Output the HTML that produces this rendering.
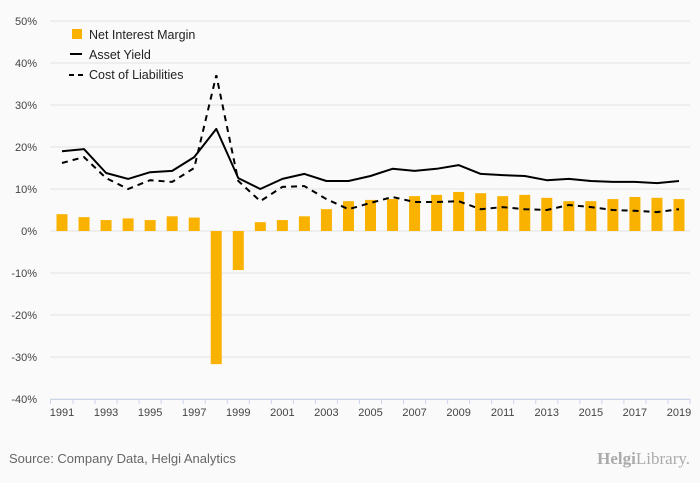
<!DOCTYPE html>
<html><head><meta charset="utf-8"><style>
html,body{margin:0;padding:0;background:#fafafa;}
svg{display:block;font-family:"Liberation Sans",sans-serif;}
</style></head><body>
<svg id="chart" width="700" height="483">
<rect x="0" y="0" width="700" height="483" fill="#fafafa"/>
<g id="grid"></g>
<g id="bars"></g>
<g id="lines"></g>
<g id="axes"></g>
<g font-size="12.5" fill="#222">
<g><rect x="72" y="29" width="10" height="10" fill="#f9b200"/><text x="89" y="39">Net Interest Margin</text></g>
<g><line x1="70" y1="54" x2="82" y2="54" stroke="#000" stroke-width="2"/><text x="89" y="59">Asset Yield</text></g>
<g><line x1="69" y1="75" x2="83" y2="75" stroke="#000" stroke-width="2" stroke-dasharray="5,4"/><text x="89" y="79">Cost of Liabilities</text></g>
</g>
<text x="9" y="463" font-size="13" fill="#666">Source: Company Data, Helgi Analytics</text>
<text x="690" y="464" font-size="17" fill="#aaa" text-anchor="end" font-family="Liberation Serif, serif"><tspan font-weight="bold">Helgi</tspan>Library.</text>
</svg>
<script>
const years=[1991,1992,1993,1994,1995,1996,1997,1998,1999,2000,2001,2002,2003,2004,2005,2006,2007,2008,2009,2010,2011,2012,2013,2014,2015,2016,2017,2018,2019];
const netInterestMargin=[4.0,3.3,2.6,3.0,2.6,3.5,3.2,-31.7,-9.3,2.1,2.6,3.5,5.2,7.1,7.4,7.6,8.3,8.6,9.3,9.0,8.3,8.6,7.9,7.1,7.1,7.6,8.1,7.9,7.6];
const assetYield=[19.0,19.5,13.8,12.4,14.0,14.3,17.6,24.3,12.6,10.0,12.4,13.6,11.9,11.9,13.1,14.8,14.3,14.8,15.7,13.6,13.3,13.1,12.1,12.4,11.9,11.7,11.7,11.4,11.9];
const costOfLiabilities=[16.2,17.6,12.6,10.0,12.1,11.7,15.0,37.1,11.9,7.1,10.5,10.7,7.6,5.2,6.7,8.1,6.9,6.9,7.1,5.2,5.7,5.2,5.0,6.2,5.7,5.0,4.8,4.5,5.2];
const yTicks=[50,40,30,20,10,0,-10,-20,-30,-40];
const NS="http://www.w3.org/2000/svg";
const x=i=>62+i*(679-62)/28;
const y=v=>231-v*4.2;
function mk(tag,attrs,parent){const e=document.createElementNS(NS,tag);for(const k in attrs)e.setAttribute(k,attrs[k]);parent.appendChild(e);return e;}
const grid=document.getElementById('grid'),bars=document.getElementById('bars'),lines=document.getElementById('lines'),axes=document.getElementById('axes');
yTicks.forEach(t=>{
  const l=mk('line',{x1:50,x2:690,y1:y(t),y2:y(t),stroke:'#e2e2e2','stroke-width':1},grid);
  
  
  const tx=mk('text',{x:37,y:y(t)+4,'text-anchor':'end','font-size':11,fill:'#444'},axes);
  tx.textContent=t+'%';
  
  
});
netInterestMargin.forEach((v,i)=>{
  const r=mk('rect',{x:x(i)-5.5,width:11,y:Math.min(y(v),y(0)),height:Math.abs(y(v)-y(0)),fill:'#f9b200'},bars);
  
  
});
const pts=a=>a.map((v,i)=>x(i).toFixed(1)+','+y(v).toFixed(1)).join(' ');
const ay=mk('polyline',{points:pts(assetYield),fill:'none',stroke:'#000','stroke-width':2,'stroke-linejoin':'round'},lines);


const cl=mk('polyline',{points:pts(costOfLiabilities),fill:'none',stroke:'#000','stroke-width':2,'stroke-dasharray':'6,5'},lines);


const ax=mk('line',{x1:50,x2:690,y1:399.5,y2:399.5,stroke:'#ccd6eb'},axes);


years.forEach((yr,i)=>{
  const tk=mk('line',{x1:x(i)+11,x2:x(i)+11,y1:399,y2:404,stroke:'#ccd6eb'},axes);
  
  
  if(i%2===0){
    const t=mk('text',{x:x(i),y:416,'text-anchor':'middle','font-size':11,fill:'#444'},axes);
    t.textContent=yr;
    
    
  }
});
const t0=mk('line',{x1:50.5,x2:50.5,y1:399,y2:404,stroke:'#ccd6eb'},axes);


</script>
</body></html>
